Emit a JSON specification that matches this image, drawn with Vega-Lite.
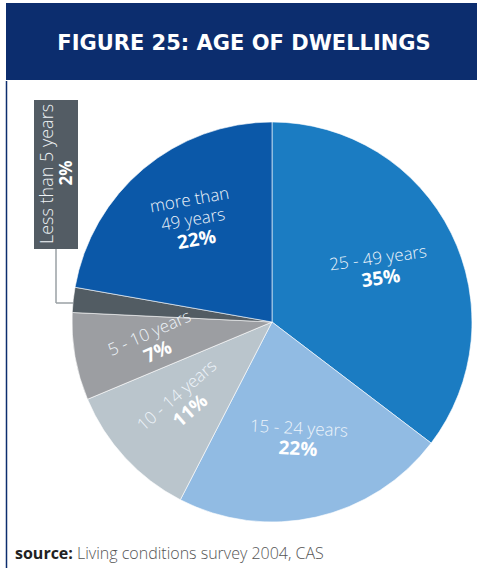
{
  "$schema": "https://vega.github.io/schema/vega-lite/v6.json",
  "padding": {"left": 5, "top": 3, "right": 0, "bottom": 0},
  "spacing": 0,
  "config": {"view": {"stroke": null}, "font": "Open Sans"},
  "datasets": {
    "slices": [
      {"cat": "25 - 49 years", "line1": "", "line2": "25 - 49 years", "pct": "35%", "value": 35, "rank": 1},
      {"cat": "15 - 24 years", "line1": "", "line2": "15 - 24 years", "pct": "22%", "value": 22, "rank": 2},
      {"cat": "10 - 14 years", "line1": "", "line2": "10 - 14 years", "pct": "11%", "value": 11, "rank": 3},
      {"cat": "5 - 10 years", "line1": "", "line2": "5 - 10 years", "pct": "7%", "value": 7, "rank": 4},
      {"cat": "Less than 5 years", "line1": "", "line2": "Less than 5 years", "pct": "2%", "value": 2, "rank": 5},
      {"cat": "more than 49 years", "line1": "more than", "line2": "49 years", "pct": "22%", "value": 22, "rank": 6}
    ]
  },
  "vconcat": [
    {
      "width": 472,
      "height": 77,
      "view": {"fill": "#0c2d6e", "stroke": null},
      "data": {"values": [{"t": "FIGURE 25: AGE OF DWELLINGS"}]},
      "mark": {"type": "text", "font": "DejaVu Sans", "fontWeight": "bold", "fontSize": 21, "color": "#ffffff", "baseline": "middle", "align": "center"},
      "encoding": {"text": {"field": "t"}, "x": {"value": 238}, "y": {"value": 41}}
    },
    {
      "width": 472,
      "height": 488,
      "data": {"name": "slices"},
      "layer": [
        {
          "mark": {"type": "arc", "outerRadius": 200, "stroke": "#ffffff", "strokeWidth": 0.6},
          "encoding": {
            "theta": {"field": "value", "type": "quantitative", "stack": true},
            "order": {"field": "rank", "type": "quantitative"},
            "color": {
              "field": "cat", "type": "nominal", "legend": null,
              "scale": {
                "domain": ["25 - 49 years", "15 - 24 years", "10 - 14 years", "5 - 10 years", "Less than 5 years", "more than 49 years"],
                "range": ["#1b7cc2", "#91bbe3", "#bac5cc", "#9c9ea2", "#525c63", "#0b58a8"]
              }
            },
            "x": {"value": 266},
            "y": {"value": 241}
          }
        },
        {
          "mark": {"type": "text", "radius": 120, "baseline": "bottom", "dy": -21, "fontSize": 17, "fontWeight": 300, "color": "#eef4fa", "align": "center"},
          "encoding": {
            "theta": {"field": "value", "type": "quantitative", "stack": true},
            "order": {"field": "rank", "type": "quantitative"},
            "text": {"field": "line1"},
            "angle": {
              "field": "cat", "type": "nominal", "legend": null,
              "scale": {"type": "ordinal",
                "domain": ["25 - 49 years", "15 - 24 years", "10 - 14 years", "5 - 10 years", "Less than 5 years", "more than 49 years"],
                "range": [-8, 3, -41, -24, -90, -10]}
            },
            "opacity": {"condition": {"test": "datum.cat === 'Less than 5 years'", "value": 0}, "value": 1},
            "x": {"value": 266},
            "y": {"value": 241}
          }
        },
        {
          "mark": {"type": "text", "radius": 120, "baseline": "bottom", "dy": -1, "fontSize": 17, "fontWeight": 300, "color": "#eef4fa", "align": "center"},
          "encoding": {
            "theta": {"field": "value", "type": "quantitative", "stack": true},
            "order": {"field": "rank", "type": "quantitative"},
            "text": {"field": "line2"},
            "angle": {
              "field": "cat", "type": "nominal", "legend": null,
              "scale": {"type": "ordinal",
                "domain": ["25 - 49 years", "15 - 24 years", "10 - 14 years", "5 - 10 years", "Less than 5 years", "more than 49 years"],
                "range": [-8, 3, -41, -24, -90, -8]}
            },
            "opacity": {"condition": {"test": "datum.cat === 'Less than 5 years'", "value": 0}, "value": 1},
            "x": {"value": 266},
            "y": {"value": 241}
          }
        },
        {
          "mark": {"type": "text", "radius": 120, "baseline": "top", "dy": 1, "fontSize": 19, "fontWeight": "bold", "color": "#ffffff", "align": "center"},
          "encoding": {
            "theta": {"field": "value", "type": "quantitative", "stack": true},
            "order": {"field": "rank", "type": "quantitative"},
            "text": {"field": "pct"},
            "angle": {
              "field": "cat", "type": "nominal", "legend": null,
              "scale": {"type": "ordinal",
                "domain": ["25 - 49 years", "15 - 24 years", "10 - 14 years", "5 - 10 years", "Less than 5 years", "more than 49 years"],
                "range": [-8, 3, -41, -24, -90, -6]}
            },
            "opacity": {"condition": {"test": "datum.cat === 'Less than 5 years'", "value": 0}, "value": 1},
            "x": {"value": 266},
            "y": {"value": 241}
          }
        },
        {
          "data": {"values": [{}]},
          "mark": {"type": "rect", "color": "#535c64"},
          "encoding": {"x": {"value": 28}, "x2": {"value": 72}, "y": {"value": 19}, "y2": {"value": 168}}
        },
        {
          "data": {"values": [{}]},
          "mark": {"type": "rule", "color": "#9aa0a5", "strokeWidth": 1.5},
          "encoding": {"x": {"value": 50}, "y": {"value": 168}, "y2": {"value": 222}}
        },
        {
          "data": {"values": [{}]},
          "mark": {"type": "rule", "color": "#9aa0a5", "strokeWidth": 1.5},
          "encoding": {"x": {"value": 50}, "x2": {"value": 67}, "y": {"value": 222}}
        },
        {
          "data": {"values": [{}]},
          "mark": {"type": "rule", "color": "#0c2d6e", "strokeWidth": 1.5},
          "encoding": {"x": {"value": 0.5}, "y": {"value": 0}, "y2": {"value": 488}}
        },
        {
          "transform": [{"filter": "datum.cat === 'Less than 5 years'"}],
          "mark": {"type": "text", "angle": -90, "align": "center", "baseline": "middle", "fontSize": 18, "fontWeight": 300, "color": "#eef2f5"},
          "encoding": {"text": {"field": "line2"}, "x": {"value": 42}, "y": {"value": 93}}
        },
        {
          "transform": [{"filter": "datum.cat === 'Less than 5 years'"}],
          "mark": {"type": "text", "angle": -90, "align": "center", "baseline": "middle", "fontSize": 17, "fontWeight": "bold", "color": "#ffffff"},
          "encoding": {"text": {"field": "pct"}, "x": {"value": 61}, "y": {"value": 92}}
        },
        {
          "data": {"values": [{"t": "source:"}]},
          "mark": {"type": "text", "align": "left", "baseline": "alphabetic", "fontSize": 16, "fontWeight": "bold", "color": "#222222"},
          "encoding": {"text": {"field": "t"}, "x": {"value": 9}, "y": {"value": 478}}
        },
        {
          "data": {"values": [{"t": "Living conditions survey 2004, CAS"}]},
          "mark": {"type": "text", "align": "left", "baseline": "alphabetic", "fontSize": 16, "fontWeight": 300, "color": "#555555"},
          "encoding": {"text": {"field": "t"}, "x": {"value": 71}, "y": {"value": 478}}
        }
      ]
    }
  ]
}
